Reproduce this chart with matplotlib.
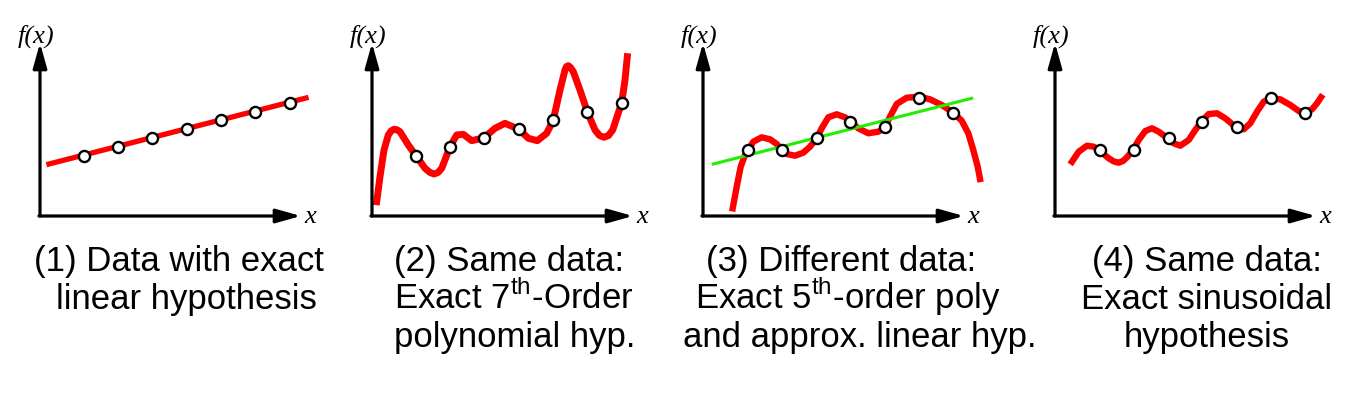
import matplotlib
matplotlib.use('Agg')
import matplotlib.pyplot as plt

plt.rcParams['mathtext.fontset'] = 'custom'
plt.rcParams['mathtext.rm'] = 'Liberation Sans'

# data points (same for panels 1-2, and for panels 3-4)
data_a_x = [4.35, 7.75, 11.2, 14.7, 18.1, 21.5, 24.95]
data_a_y = [6.0, 6.9, 7.8, 8.7, 9.6, 10.4, 11.3]
data_b_x = [4.5, 7.85, 11.35, 14.7, 18.15, 21.55, 25.0]
data_b_y = [6.6, 6.6, 7.8, 9.4, 8.9, 11.8, 10.3]

# (1) linear hypothesis
lin_x = [0.9, 26.6]
lin_y = [5.2, 11.8]

# (2) 7th order polynomial
poly7_x = [0.47, 0.8, 1.2, 1.63, 1.9, 2.2, 2.5, 2.8, 3.63, 4.4, 5.3, 5.8, 6.2, 6.6, 6.97,
           7.8, 8.47, 9.13, 9.97, 11.2, 12.3, 13.3, 14.7, 15.63, 16.53, 17.47, 18.13,
           18.8, 19.3, 19.45, 19.63, 19.85, 20.13, 20.8, 21.53, 22.3, 22.75, 23.2, 23.65,
           24.07, 24.97, 25.3, 25.53]
poly7_y = [1.43, 3.93, 6.6, 8.1, 8.5, 8.67, 8.62, 8.43, 7.1, 6.03, 4.77, 4.35, 4.2, 4.35,
           4.77, 6.93, 8.1, 8.17, 7.53, 7.83, 8.77, 9.27, 8.67, 7.77, 7.53, 8.27, 9.6,
           12.6, 14.6, 14.95, 15.03, 14.85, 14.43, 12.6, 10.43, 8.6, 8.05, 7.87, 8.05,
           8.6, 11.33, 13.6, 15.93]

# (3) 5th order polynomial + approx linear
poly5_x = [2.97, 3.37, 3.77, 4.2, 4.53, 5.03, 5.87, 6.7, 7.37, 7.87, 8.37, 9.2, 10.03,
           10.7, 11.37, 11.87, 12.53, 13.37, 14.2, 14.77, 15.53, 16.53, 17.53, 18.2,
           18.7, 19.37, 20.37, 21.63, 22.7, 23.87, 25.03, 25.87, 26.53, 27.03, 27.47, 27.7]
poly5_y = [0.77, 2.93, 4.93, 6.1, 6.6, 7.43, 7.87, 7.67, 7.2, 6.6, 6.2, 6.03, 6.33,
           6.93, 7.77, 8.77, 9.87, 10.17, 9.87, 9.43, 8.77, 8.27, 8.43, 8.87,
           9.93, 11.2, 11.83, 11.93, 11.67, 11.1, 10.33, 9.53, 8.27, 6.6, 4.93, 3.7]
approx_x = [1.03, 26.87]
approx_y = [5.2, 11.77]

# (4) sinusoidal
sin_x = [1.7, 2.37, 3.2, 3.87, 4.37, 5.37, 5.9, 6.37, 6.8, 7.2, 7.8, 8.37, 9.03, 9.7,
         10.37, 11.27, 11.87, 12.53, 13.37, 14.03, 14.63, 15.37, 16.2, 17.03, 18.1,
         18.87, 19.53, 20.2, 20.87, 21.53, 22.53, 23.53, 24.37, 25.03, 25.7, 26.2, 26.6]
sin_y = [5.43, 6.43, 7.03, 6.93, 6.6, 5.77, 5.45, 5.33, 5.5, 5.87, 6.6, 7.6, 8.5, 8.77,
         8.43, 7.77, 7.27, 7.03, 7.6, 8.6, 9.43, 10.2, 10.27, 9.77, 8.87,
         8.67, 9.27, 10.43, 11.43, 11.77, 11.67, 11.1, 10.5, 10.33, 10.67, 11.27, 11.87]

captions = [
    ["(1) Data with exact", "linear hypothesis"],
    ["(2) Same data:", r"Exact 7$^{\mathrm{th}}$-Order", "polynomial hyp."],
    ["(3) Different data:", r"Exact 5$^{\mathrm{th}}$-order poly", "and approx. linear hyp."],
    ["(4) Same data:", "Exact sinusoidal", "hypothesis"],
]

W, H = 1357, 393
fig = plt.figure(figsize=(W / 100, H / 100), dpi=100)

origins = [40, 372, 703, 1055]
ax_w, ax_h = 261, 173
axes = []
for ox in origins:
    ax = fig.add_axes([ox / W, (H - 216) / H, ax_w / W, ax_h / H])
    ax.set_xlim(0, 26.1)
    ax.set_ylim(0, 17.3)
    ax.axis('off')
    arrow = dict(arrowstyle='-|>,head_length=1.5,head_width=0.42', lw=2.3,
                 color='black', shrinkA=0, shrinkB=0, mutation_scale=10)
    ax.annotate('', xy=(1, 0), xytext=(-0.004, 0), xycoords='axes fraction', arrowprops=arrow)
    ax.annotate('', xy=(0, 1), xytext=(0, 0), xycoords='axes fraction', arrowprops=arrow)
    ax.text(-0.4, 18.0, 'f(x)', family='Liberation Serif', style='italic', fontsize=19,
            ha='center', va='center')
    ax.text(27.0, -0.1, 'x', family='Liberation Serif', style='italic', fontsize=19,
            ha='center', va='center')
    axes.append(ax)

red = '#ff0000'
dot = dict(ls='none', marker='o', ms=8, mfc='white', mec='black', mew=1.7, clip_on=False, zorder=5)

axes[0].plot(lin_x, lin_y, color=red, lw=3.8, clip_on=False)
axes[0].plot(data_a_x, data_a_y, **dot)

axes[1].plot(poly7_x, poly7_y, color=red, lw=5, clip_on=False, solid_joinstyle='round')
axes[1].plot(data_a_x, data_a_y, **dot)

axes[2].plot(poly5_x, poly5_y, color=red, lw=4.6, clip_on=False, solid_joinstyle='round')
axes[2].plot(approx_x, approx_y, color='#22ee00', lw=2.2, clip_on=False)
axes[2].plot(data_b_x, data_b_y, **dot)

axes[3].plot(sin_x, sin_y, color=red, lw=4.6, clip_on=False, solid_joinstyle='round')
axes[3].plot(data_b_x, data_b_y, **dot)

# captions
cap_font = dict(family='Liberation Sans', fontsize=25, va='baseline')
baselines = [271, 309, 347]
cap_pos = [
    [(179, 'center'), (186, 'center')],
    [(394, 'left'), (394, 'left'), (394, 'left')],
    [(841, 'center'), (848, 'center'), (860, 'center')],
    [(1207, 'center'), (1207, 'center'), (1207, 'center')],
]
for lines, pos in zip(captions, cap_pos):
    for i, (line, (x, ha)) in enumerate(zip(lines, pos)):
        fig.text(x / W, 1 - baselines[i] / H, line, ha=ha, **cap_font)

plt.savefig('out.png', dpi=100)
